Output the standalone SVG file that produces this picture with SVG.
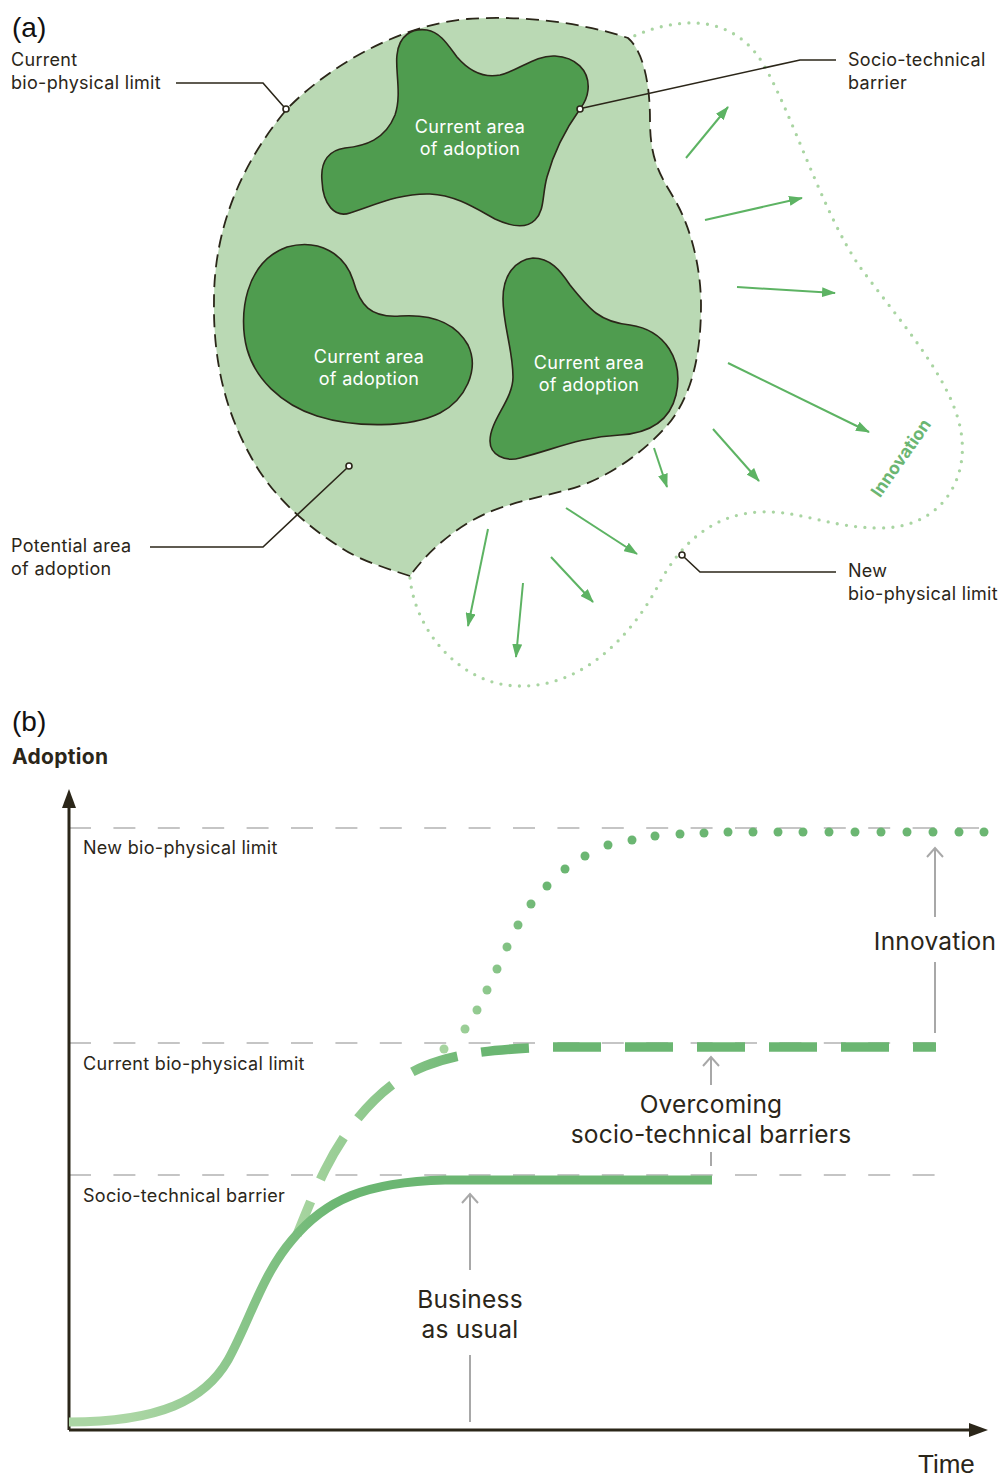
<svg xmlns="http://www.w3.org/2000/svg" width="1000" height="1480" viewBox="0 0 1000 1480">
<defs>
<style>
.lbl{font-family:Inter,"Open Sans",sans-serif;font-size:18px;letter-spacing:0.3px;fill:#2b2619}
.in{font-family:Inter,"Open Sans",sans-serif;font-size:18px;letter-spacing:0.3px;fill:#ffffff;text-anchor:middle}
.big{font-family:Inter,"Open Sans",sans-serif;font-size:24.5px;letter-spacing:0.2px;fill:#2b2619;text-anchor:middle}
.tag{font-family:"Liberation Sans",Arial,sans-serif;font-size:28px;fill:#111111}
.blob{fill:#4f9c4f;stroke:#2b2619;stroke-width:1.6}
.lead{fill:none;stroke:#2b2619;stroke-width:1.6}
.ring{fill:#ffffff;stroke:#2b2619;stroke-width:1.6}
.garr{fill:none;stroke:#5db363;stroke-width:2;marker-end:url(#ga)}
.guide{fill:none;stroke:#b3b3b3;stroke-width:1.5;stroke-dasharray:22 22.4}
.gray{fill:none;stroke:#a8a8a8;stroke-width:2}
</style>
<marker id="ga" markerUnits="userSpaceOnUse" markerWidth="14" markerHeight="10" refX="13" refY="5" orient="auto">
<path d="M0,0 L14,5 L0,10 Z" fill="#5db363"/>
</marker>
<linearGradient id="gSolid" gradientUnits="userSpaceOnUse" x1="130" y1="0" x2="340" y2="0">
<stop offset="0" stop-color="#abd6a4"/><stop offset="1" stop-color="#6bb672"/>
</linearGradient>
<linearGradient id="gDash" gradientUnits="userSpaceOnUse" x1="300" y1="0" x2="480" y2="0">
<stop offset="0" stop-color="#a6d49f"/><stop offset="1" stop-color="#6bb672"/>
</linearGradient>
<linearGradient id="gDot" gradientUnits="userSpaceOnUse" x1="445" y1="0" x2="545" y2="0">
<stop offset="0" stop-color="#a6d49f"/><stop offset="1" stop-color="#6bb672"/>
</linearGradient>
</defs>

<!-- ===== Panel (a) ===== -->
<text class="tag" x="12" y="37">(a)</text>

<g id="new-limit-outline">
<path d="M 410,578 C 415,630 460,686 520,686 C 580,687 630,640 660,582 C 680,545 712,514 760,512 C 800,510 830,528 880,528 C 940,528 966,482 962,440 C 958,385 900,322 860,267 C 822,212 792,112 762,62 C 742,30 712,22 688,23 C 666,24 646,30 630,38" fill="none" stroke="#a9d5a2" stroke-width="3.3" stroke-linecap="round" stroke-dasharray="0 9.3"/>
</g>

<g id="potential-area">
<path d="M 410,576 C 385,568 360,560 343,549 C 300,522 268,490 250,455 C 225,410 213,360 214,300 C 214,230 240,165 287,109 C 330,65 400,25 467,19 C 520,15 580,22 628,38 C 642,50 650,80 650,120 C 650,160 660,175 675,200 C 692,230 701,270 701,305 C 701,360 690,400 665,428 C 640,455 605,480 567,490 C 540,497 510,503 487,513 C 460,525 430,548 410,576 Z" fill="#bad9b4" stroke="#2b2619" stroke-width="1.8" stroke-dasharray="13 7"/>
</g>

<g id="adoption-1">
<path class="blob" d="M 322,181 C 320,160 330,150 345,148 C 365,146 385,140 395,115 C 402,95 395,70 397,55 C 399,35 412,28 427,30 C 440,32 448,45 457,57 C 470,72 485,78 500,75 C 520,70 535,55 555,56 C 575,57 590,70 588,90 C 587,100 583,105 580,109 C 565,130 553,155 547,177 C 542,195 545,210 535,220 C 525,230 510,226 495,219 C 475,208 455,195 430,194 C 400,193 375,205 350,213 C 335,218 323,205 322,181 Z"/>
<text class="in"><tspan x="470" y="133">Current area</tspan><tspan x="470" dy="22">of adoption</tspan></text>
</g>

<g id="adoption-2">
<path class="blob" d="M 287,247 C 320,238 345,255 353,280 C 360,305 370,318 400,316 C 430,314 455,322 468,345 C 480,370 465,400 440,413 C 410,428 355,428 317,416 C 280,404 255,378 247,349 C 238,315 245,262 287,247 Z"/>
<text class="in"><tspan x="369" y="363">Current area</tspan><tspan x="369" dy="22">of adoption</tspan></text>
</g>

<g id="adoption-3">
<path class="blob" d="M 533,258 C 515,260 503,275 503,299 C 503,325 513,350 513,377 C 513,400 490,420 490,441 C 490,455 505,462 520,458 C 555,449 580,437 620,435 C 650,433 670,420 676,395 C 684,360 665,330 630,325 C 600,322 590,310 570,285 C 560,270 550,258 533,258 Z"/>
<text class="in"><tspan x="589" y="369">Current area</tspan><tspan x="589" dy="22">of adoption</tspan></text>
</g>

<g id="innovation-label-a">
<text transform="translate(901,458) rotate(-55)" x="0" y="6" text-anchor="middle" font-family="Inter,'Open Sans',sans-serif" font-size="17.5" font-weight="700" fill="#6bb672">Innovation</text>
</g>

<g id="label-current-limit">
<text class="lbl"><tspan x="11" y="66">Current</tspan><tspan x="11" dy="23">bio-physical limit</tspan></text>
</g>
<g id="label-barrier">
<text class="lbl"><tspan x="848" y="66">Socio-technical</tspan><tspan x="848" dy="23">barrier</tspan></text>
</g>
<g id="label-potential">
<text class="lbl"><tspan x="11" y="552">Potential area</tspan><tspan x="11" dy="23">of adoption</tspan></text>
</g>
<g id="label-new-limit">
<text class="lbl"><tspan x="848" y="577">New</tspan><tspan x="848" dy="23">bio-physical limit</tspan></text>
</g>

<g id="connectors">
<path class="lead" d="M 176,83 L 263,83 L 284,107"/>
<circle class="ring" cx="286" cy="109" r="3"/>
<path class="lead" d="M 836,60 L 800,60 L 583,108"/>
<circle class="ring" cx="580" cy="109" r="3"/>
<path class="lead" d="M 150,547 L 263,547 L 347,468"/>
<circle class="ring" cx="349" cy="466" r="3"/>
<path class="lead" d="M 836,572 L 700,572 L 684,557"/>
<circle class="ring" cx="682" cy="555" r="3"/>
<path class="garr" d="M686,158 L728,107"/>
<path class="garr" d="M705,220 L802,198"/>
<path class="garr" d="M737,287 L835,293"/>
<path class="garr" d="M728,363 L869,432"/>
<path class="garr" d="M713,429 L759,481"/>
<path class="garr" d="M654,448 L667,487"/>
<path class="garr" d="M566,508 L637,554"/>
<path class="garr" d="M551,557 L593,602"/>
<path class="garr" d="M488,529 L468,626"/>
<path class="garr" d="M523,583 L516,657"/>
</g>

<!-- ===== Panel (b) ===== -->
<text class="tag" x="12" y="731">(b)</text>
<text x="12" y="764" font-family="Inter,'Open Sans',sans-serif" font-size="21" font-weight="700" letter-spacing="0.3" fill="#2b2619">Adoption</text>
<text x="918" y="1473" font-family="'Liberation Sans',Arial,sans-serif" font-size="26" fill="#2b2619">Time</text>

<g id="guides">
<path class="guide" d="M 69,828 L 992,828"/>
<path class="guide" d="M 69,1043 L 936,1043"/>
<path class="guide" d="M 69,1175 L 936,1175"/>
<text class="lbl" x="83" y="854">New bio-physical limit</text>
<text class="lbl" x="83" y="1070">Current bio-physical limit</text>
<text class="lbl" x="83" y="1202">Socio-technical barrier</text>
</g>

<g id="axes">
<path d="M 69,1430 L 69,805" stroke="#2b2619" stroke-width="3" fill="none"/>
<path d="M 62,808 L 69,789 L 76,808 Z" fill="#2b2619"/>
<path d="M 69,1430 L 972,1430" stroke="#2b2619" stroke-width="3" fill="none"/>
<path d="M 969,1423 L 988,1430 L 969,1437 Z" fill="#2b2619"/>
</g>

<g id="innovation-curve" fill="url(#gDot)">
<circle cx="444" cy="1049" r="4.5"/><circle cx="465" cy="1029" r="4.5"/><circle cx="477" cy="1010" r="4.5"/><circle cx="487" cy="990" r="4.5"/><circle cx="497" cy="969" r="4.5"/><circle cx="507" cy="947" r="4.5"/><circle cx="518" cy="925" r="4.5"/><circle cx="531" cy="904" r="4.5"/><circle cx="547" cy="886" r="4.5"/><circle cx="565" cy="869" r="4.5"/><circle cx="585" cy="856" r="4.5"/><circle cx="608" cy="845" r="4.5"/><circle cx="632" cy="840" r="4.5"/><circle cx="655" cy="836" r="4.5"/><circle cx="680" cy="834" r="4.5"/><circle cx="704" cy="833" r="4.5"/><circle cx="728" cy="832" r="4.5"/><circle cx="753" cy="832" r="4.5"/><circle cx="778" cy="832" r="4.5"/><circle cx="803" cy="832" r="4.5"/><circle cx="829" cy="832" r="4.5"/><circle cx="855" cy="832" r="4.5"/><circle cx="881" cy="832" r="4.5"/><circle cx="907" cy="832" r="4.5"/><circle cx="933" cy="832" r="4.5"/><circle cx="959" cy="832" r="4.5"/><circle cx="984" cy="832" r="4.5"/>
</g>

<g id="overcoming-curve">
<path d="M 936,1047 L 552,1047 C 500,1049 460,1052 425,1066 C 385,1082 350,1120 325,1170 C 315,1190 305,1215 297,1235" fill="none" stroke="url(#gDash)" stroke-width="9.5" stroke-dasharray="48 24" stroke-dashoffset="25"/>
</g>

<g id="business-curve">
<path d="M 69,1422 C 160,1422 205,1400 228,1360 C 250,1320 262,1275 292,1240 C 325,1200 365,1182 445,1180 L 712,1180" fill="none" stroke="url(#gSolid)" stroke-width="9"/>
</g>

<g id="label-business">
<path class="gray" d="M 470,1422 L 470,1355"/>
<path class="gray" d="M 470,1270 L 470,1194"/>
<path class="gray" d="M 462,1203 L 470,1194 L 478,1203"/>
<text class="big"><tspan x="470" y="1308">Business</tspan><tspan x="470" dy="30">as usual</tspan></text>
</g>

<g id="label-overcoming">
<path class="gray" d="M 711,1166 L 711,1152"/>
<path class="gray" d="M 711,1085 L 711,1057"/>
<path class="gray" d="M 703,1066 L 711,1057 L 719,1066"/>
<text class="big"><tspan x="711" y="1113">Overcoming</tspan><tspan x="711" dy="30">socio-technical barriers</tspan></text>
</g>

<g id="label-innovation">
<path class="gray" d="M 935,1033 L 935,962"/>
<path class="gray" d="M 935,917 L 935,848"/>
<path class="gray" d="M 927,857 L 935,848 L 943,857"/>
<text class="big" x="935" y="950">Innovation</text>
</g>
</svg>
